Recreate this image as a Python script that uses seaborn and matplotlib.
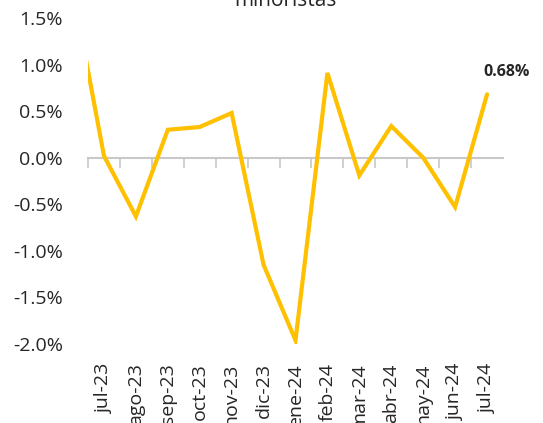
import pandas as pd
import matplotlib
matplotlib.use("Agg")
import matplotlib.pyplot as plt
import seaborn as sns
from matplotlib.ticker import PercentFormatter

months = ['jun-23', 'jul-23', 'ago-23', 'sep-23', 'oct-23', 'nov-23', 'dic-23',
          'ene-24', 'feb-24', 'mar-24', 'abr-24', 'may-24', 'jun-24', 'jul-24']
values = [1.85, 0.02, -0.63, 0.30, 0.33, 0.48, -1.15,
          -1.96, 0.91, -0.19, 0.34, 0.00, -0.53, 0.68]
title = "minoristas"

df = pd.DataFrame({'Mes': months, 'Valor': values})
df['pos'] = range(len(df))

sns.set_style("white")
plt.rcParams['font.family'] = ['Open Sans', 'DejaVu Sans']
plt.rcParams['axes.unicode_minus'] = False

fig = plt.figure(figsize=(5.43, 4.23), dpi=100)
ax = fig.add_axes([88 / 543, 1 - 344 / 423, 415 / 543, 326 / 423])

sns.lineplot(data=df, x='pos', y='Valor', color='#FFC000', linewidth=3,
             ax=ax, solid_joinstyle='miter')

n = len(months)
ax.set_xlim(0.5, n - 0.5)
ax.set_ylim(-2.0, 1.5)
ax.set_yticks([-2.0, -1.5, -1.0, -0.5, 0.0, 0.5, 1.0, 1.5])
ax.yaxis.set_major_formatter(PercentFormatter(decimals=1))
ax.tick_params(axis='y', length=0, labelsize=14, pad=18)

ax.set_xticks(df['pos'][1:])
ax.set_xticklabels(months[1:], rotation=90, fontsize=14)
ax.tick_params(axis='x', length=0, pad=14)
ax.set_xlabel("")
ax.set_ylabel("")
for s in ax.spines.values():
    s.set_visible(False)

# axis line at zero with ticks between categories
sec = ax.secondary_xaxis(0, transform=ax.transData)
sec.set_xticks([p + 0.5 for p in df['pos'][:-1]])
sec.set_xticklabels([])
sec.tick_params(axis='x', length=7, width=1.2, color='#C8C8C8', direction='out')
sec.spines['bottom'].set_color('#C8C8C8')
sec.spines['bottom'].set_linewidth(1.5)
for s in ['top', 'left', 'right']:
    sec.spines[s].set_visible(False)

ax.annotate(f"{values[-1]:.2f}%", xy=(df['pos'].iloc[-1], values[-1]),
            xytext=(20, 22), textcoords='offset pixels', ha='center',
            va='center', fontsize=11.5, fontweight='bold')

fig.text(285 / 543, 1.0, title, ha='center', va='center', fontsize=15)

plt.savefig("out.png", dpi=100)
